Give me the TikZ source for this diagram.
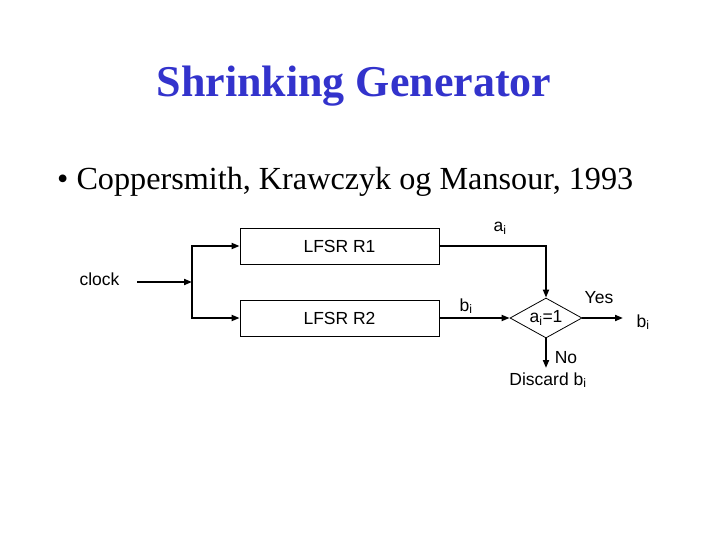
\documentclass[tikz,border=0pt]{standalone}
\usepackage{fontspec}
\setmainfont{Liberation Serif}
\newfontfamily\arialfont{Liberation Sans}
\usepackage{xcolor}
\usetikzlibrary{arrows.meta,positioning,shapes.geometric}

\definecolor{titleblue}{RGB}{51,51,204}

\begin{document}
\begin{tikzpicture}[
    >={Triangle[length=8pt,width=6pt]},
    x=1pt, y=-1pt,
    lfsr/.style={draw,line width=0.8pt,minimum width=199pt,minimum height=36pt,
                 inner sep=0pt,font=\arialfont\fontsize{17.5}{20}\selectfont},
    test/.style={draw,diamond,line width=0.8pt,aspect=1.75,minimum width=72pt,
                 minimum height=40pt,inner sep=0pt,font=\arialfont\fontsize{17.5}{20}\selectfont},
    lbl/.style={inner sep=0pt,anchor=base,font=\arialfont\fontsize{17.5}{20}\selectfont},
    wire/.style={line width=1.8pt},
  ]
  \useasboundingbox (0,0) rectangle (720,540);

  % --- heading ---
  \node[anchor=base,inner sep=0pt,text=titleblue,
        font=\fontsize{44}{50}\selectfont\bfseries] (title) at (354,97) {Shrinking Generator};
  \node[anchor=base west,inner sep=0pt,font=\fontsize{32.2}{36}\selectfont]
        (cite) at (57,190) {\textbullet\ Coppersmith, Krawczyk og Mansour, 1993};

  % --- registers ---
  \node[lfsr] (r1) at (339.5,246) {LFSR R1};
  \node[lfsr] (r2) at (339.5,318) {LFSR R2};

  % --- clock input ---
  \node[lbl] (clock) at (99.5,285) {clock};
  \coordinate (clkout) at (137,282);
  \coordinate (fork) at (192,282);

  % --- decision ---
  \node[test] (dec) at (546,318) {a\textsubscript{i}=1};
  \node[lbl] (disc) at (548,385) {Discard b\textsubscript{i}};
  \coordinate (discin) at (546,368);
  \node[lbl] (bout) at (643,327) {b\textsubscript{i}};
  \coordinate (outend) at (623,318);

  % --- connectors ---
  \draw[wire,->] (clkout) -- (fork);
  \draw[wire,->] (fork) |- (r1.west);
  \draw[wire,->] (fork) |- (r2.west);
  \draw[wire,->] (r1.east) -| (dec.north);
  \draw[wire,->] (r2.east) -- (dec.west);
  \draw[wire,->] (dec.east) -- (outend);
  \draw[wire,->] (dec.south) -- (discin);

  % --- edge labels ---
  \node[lbl] (alab) at (500,232) {a\textsubscript{i}};
  \node[lbl] (blab) at (466,311) {b\textsubscript{i}};
  \node[lbl] (yes) at (599,303) {Yes};
  \node[lbl] (no) at (566,363) {No};

\end{tikzpicture}
\end{document}
